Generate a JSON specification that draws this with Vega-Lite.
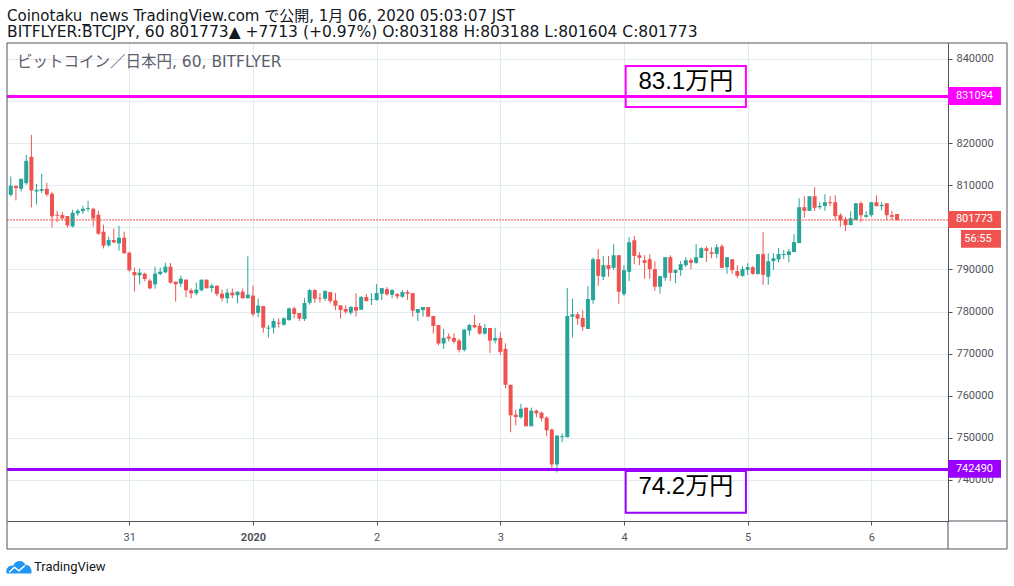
{
  "$schema": "https://vega.github.io/schema/vega-lite/v6.json",
  "description": "BITFLYER:BTCJPY 60 minute candles, 30 Dec 2019 - 6 Jan 2020",
  "width": 941,
  "height": 478,
  "autosize": {"type": "none"},
  "padding": {"left": 7, "top": 43, "right": 66, "bottom": 65},
  "background": "#ffffff",
  "config": {
    "view": {"stroke": null},
    "font": "'DejaVu Sans', 'Noto Sans CJK JP'"
  },
  "title": {
    "text": "Coinotaku_news TradingView.com で公開, 1月 06, 2020 05:03:07 JST",
    "subtitle": "BITFLYER:BTCJPY, 60 801773▲ +7713 (+0.97%) O:803188 H:803188 L:801604 C:801773",
    "anchor": "start",
    "frame": "group",
    "offset": 2,
    "font": "'DejaVu Sans', 'Noto Sans CJK JP'",
    "fontSize": 15,
    "fontWeight": "normal",
    "color": "#131722",
    "subtitleFont": "'DejaVu Sans', 'Noto Sans CJK JP'",
    "subtitleFontSize": 15.5,
    "subtitleColor": "#131722",
    "subtitlePadding": 1
  },
  "datasets": {
    "candles": [
      {"t":"2019-12-30T01:00Z","o":807750,"h":812100,"l":807350,"c":809880},
      {"t":"2019-12-30T02:00Z","o":809880,"h":809880,"l":806400,"c":809330},
      {"t":"2019-12-30T03:00Z","o":809170,"h":811540,"l":808540,"c":811540},
      {"t":"2019-12-30T04:00Z","o":810510,"h":817230,"l":810120,"c":815810},
      {"t":"2019-12-30T05:00Z","o":816760,"h":821980,"l":804740,"c":808780},
      {"t":"2019-12-30T06:00Z","o":808540,"h":810360,"l":805460,"c":808930},
      {"t":"2019-12-30T07:00Z","o":808700,"h":812730,"l":808140,"c":809090},
      {"t":"2019-12-30T08:00Z","o":809170,"h":810590,"l":807350,"c":807830},
      {"t":"2019-12-30T09:00Z","o":807990,"h":808460,"l":800000,"c":802610},
      {"t":"2019-12-30T10:00Z","o":803000,"h":803950,"l":801270,"c":802770},
      {"t":"2019-12-30T11:00Z","o":802930,"h":803720,"l":801660,"c":802140},
      {"t":"2019-12-30T12:00Z","o":802690,"h":802690,"l":800000,"c":800480},
      {"t":"2019-12-30T13:00Z","o":800240,"h":804190,"l":800000,"c":803480},
      {"t":"2019-12-30T14:00Z","o":803320,"h":804350,"l":802770,"c":803950},
      {"t":"2019-12-30T15:00Z","o":803870,"h":805140,"l":803240,"c":804430},
      {"t":"2019-12-30T16:00Z","o":804350,"h":806320,"l":803800,"c":804590},
      {"t":"2019-12-30T17:00Z","o":804430,"h":804670,"l":800240,"c":802140},
      {"t":"2019-12-30T18:00Z","o":803000,"h":803950,"l":798260,"c":798500},
      {"t":"2019-12-30T19:00Z","o":798970,"h":800630,"l":795020,"c":795650},
      {"t":"2019-12-30T20:00Z","o":795730,"h":797790,"l":795420,"c":797000},
      {"t":"2019-12-30T21:00Z","o":797000,"h":799690,"l":796210,"c":796440},
      {"t":"2019-12-30T22:00Z","o":796210,"h":800400,"l":794470,"c":797550},
      {"t":"2019-12-30T23:00Z","o":797550,"h":798970,"l":793840,"c":793840},
      {"t":"2019-12-31T00:00Z","o":793990,"h":794230,"l":789490,"c":789800},
      {"t":"2019-12-31T01:00Z","o":789410,"h":790440,"l":784740,"c":788620},
      {"t":"2019-12-31T02:00Z","o":788620,"h":790200,"l":786480,"c":789250},
      {"t":"2019-12-31T03:00Z","o":789010,"h":789250,"l":787200,"c":787750},
      {"t":"2019-12-31T04:00Z","o":787350,"h":787830,"l":785300,"c":785530},
      {"t":"2019-12-31T05:00Z","o":786480,"h":790670,"l":785460,"c":789010},
      {"t":"2019-12-31T06:00Z","o":788930,"h":790440,"l":788620,"c":789490},
      {"t":"2019-12-31T07:00Z","o":789330,"h":791620,"l":789090,"c":790670},
      {"t":"2019-12-31T08:00Z","o":790670,"h":791540,"l":786640,"c":786880},
      {"t":"2019-12-31T09:00Z","o":787120,"h":787120,"l":782370,"c":786480},
      {"t":"2019-12-31T10:00Z","o":786640,"h":788540,"l":785850,"c":787830},
      {"t":"2019-12-31T11:00Z","o":787590,"h":787590,"l":783400,"c":785060},
      {"t":"2019-12-31T12:00Z","o":785060,"h":785530,"l":783160,"c":784350},
      {"t":"2019-12-31T13:00Z","o":784350,"h":786880,"l":783880,"c":785220},
      {"t":"2019-12-31T14:00Z","o":785060,"h":787590,"l":784820,"c":787590},
      {"t":"2019-12-31T15:00Z","o":787590,"h":787590,"l":785530,"c":785530},
      {"t":"2019-12-31T16:00Z","o":785610,"h":786640,"l":784670,"c":786170},
      {"t":"2019-12-31T17:00Z","o":786170,"h":786170,"l":783640,"c":784190},
      {"t":"2019-12-31T18:00Z","o":784270,"h":785220,"l":782450,"c":783160},
      {"t":"2019-12-31T19:00Z","o":783160,"h":785460,"l":781980,"c":784510},
      {"t":"2019-12-31T20:00Z","o":784510,"h":785460,"l":783160,"c":783880},
      {"t":"2019-12-31T21:00Z","o":783880,"h":784740,"l":781980,"c":784740},
      {"t":"2019-12-31T22:00Z","o":784740,"h":785460,"l":783160,"c":783160},
      {"t":"2019-12-31T23:00Z","o":783160,"h":793120,"l":783160,"c":784030},
      {"t":"2020-01-01T00:00Z","o":783800,"h":786170,"l":778890,"c":779370},
      {"t":"2020-01-01T01:00Z","o":779690,"h":783080,"l":778660,"c":781420},
      {"t":"2020-01-01T02:00Z","o":781320,"h":781320,"l":775010,"c":776190},
      {"t":"2020-01-01T03:00Z","o":775960,"h":776820,"l":773830,"c":776190},
      {"t":"2020-01-01T04:00Z","o":776190,"h":778400,"l":774770,"c":777770},
      {"t":"2020-01-01T05:00Z","o":777380,"h":778400,"l":776190,"c":777140},
      {"t":"2020-01-01T06:00Z","o":776900,"h":778640,"l":776590,"c":778400},
      {"t":"2020-01-01T07:00Z","o":778010,"h":780930,"l":777770,"c":780770},
      {"t":"2020-01-01T08:00Z","o":780770,"h":781160,"l":778400,"c":779430},
      {"t":"2020-01-01T09:00Z","o":779660,"h":779660,"l":777770,"c":778320},
      {"t":"2020-01-01T10:00Z","o":778240,"h":783210,"l":777770,"c":782030},
      {"t":"2020-01-01T11:00Z","o":782110,"h":785340,"l":781640,"c":785110},
      {"t":"2020-01-01T12:00Z","o":785110,"h":785340,"l":782110,"c":783060},
      {"t":"2020-01-01T13:00Z","o":783210,"h":784400,"l":782110,"c":783060},
      {"t":"2020-01-01T14:00Z","o":783060,"h":785110,"l":782580,"c":784870},
      {"t":"2020-01-01T15:00Z","o":784630,"h":784630,"l":781950,"c":782500},
      {"t":"2020-01-01T16:00Z","o":782660,"h":784400,"l":780370,"c":781400},
      {"t":"2020-01-01T17:00Z","o":781480,"h":781480,"l":778320,"c":780370},
      {"t":"2020-01-01T18:00Z","o":780610,"h":781480,"l":779430,"c":779980},
      {"t":"2020-01-01T19:00Z","o":779740,"h":781320,"l":779270,"c":781080},
      {"t":"2020-01-01T20:00Z","o":781080,"h":784400,"l":778800,"c":780220},
      {"t":"2020-01-01T21:00Z","o":780450,"h":783690,"l":780370,"c":783450},
      {"t":"2020-01-01T22:00Z","o":783450,"h":784160,"l":782350,"c":782500},
      {"t":"2020-01-01T23:00Z","o":782740,"h":784400,"l":781560,"c":782900},
      {"t":"2020-01-02T00:00Z","o":782740,"h":786530,"l":782580,"c":784400},
      {"t":"2020-01-02T01:00Z","o":784240,"h":785580,"l":782740,"c":785580},
      {"t":"2020-01-02T02:00Z","o":785340,"h":785820,"l":783770,"c":784080},
      {"t":"2020-01-02T03:00Z","o":784000,"h":785340,"l":783210,"c":785110},
      {"t":"2020-01-02T04:00Z","o":784160,"h":784400,"l":782980,"c":783610},
      {"t":"2020-01-02T05:00Z","o":783530,"h":785110,"l":783290,"c":784630},
      {"t":"2020-01-02T06:00Z","o":784630,"h":785110,"l":782740,"c":784240},
      {"t":"2020-01-02T07:00Z","o":784400,"h":784400,"l":778800,"c":780220},
      {"t":"2020-01-02T08:00Z","o":779740,"h":780610,"l":777770,"c":780610},
      {"t":"2020-01-02T09:00Z","o":780370,"h":781080,"l":778800,"c":781080},
      {"t":"2020-01-02T10:00Z","o":781080,"h":781080,"l":778800,"c":778800},
      {"t":"2020-01-02T11:00Z","o":778950,"h":778950,"l":774770,"c":776590},
      {"t":"2020-01-02T12:00Z","o":776820,"h":776820,"l":772010,"c":772410},
      {"t":"2020-01-02T13:00Z","o":772410,"h":775880,"l":771140,"c":773750},
      {"t":"2020-01-02T14:00Z","o":774060,"h":774850,"l":772880,"c":773590},
      {"t":"2020-01-02T15:00Z","o":773750,"h":774850,"l":772410,"c":772880},
      {"t":"2020-01-02T16:00Z","o":773120,"h":773590,"l":770280,"c":770910},
      {"t":"2020-01-02T17:00Z","o":770910,"h":775880,"l":770510,"c":775720},
      {"t":"2020-01-02T18:00Z","o":775480,"h":777060,"l":774300,"c":776820},
      {"t":"2020-01-02T19:00Z","o":776820,"h":779190,"l":776030,"c":776270},
      {"t":"2020-01-02T20:00Z","o":776590,"h":777300,"l":774540,"c":774770},
      {"t":"2020-01-02T21:00Z","o":774770,"h":777060,"l":774540,"c":776110},
      {"t":"2020-01-02T22:00Z","o":776110,"h":776110,"l":770200,"c":773120},
      {"t":"2020-01-02T23:00Z","o":773120,"h":776110,"l":772410,"c":773750},
      {"t":"2020-01-03T00:00Z","o":773750,"h":775090,"l":769720,"c":770430},
      {"t":"2020-01-03T01:00Z","o":771140,"h":772480,"l":761750,"c":762620},
      {"t":"2020-01-03T02:00Z","o":762620,"h":762620,"l":751340,"c":755360},
      {"t":"2020-01-03T03:00Z","o":755520,"h":756700,"l":753000,"c":754970},
      {"t":"2020-01-03T04:00Z","o":754890,"h":758120,"l":754570,"c":756940},
      {"t":"2020-01-03T05:00Z","o":757180,"h":757180,"l":752760,"c":752760},
      {"t":"2020-01-03T06:00Z","o":752760,"h":757180,"l":752760,"c":756470},
      {"t":"2020-01-03T07:00Z","o":756470,"h":756700,"l":754890,"c":755840},
      {"t":"2020-01-03T08:00Z","o":755990,"h":756230,"l":753940,"c":754650},
      {"t":"2020-01-03T09:00Z","o":754810,"h":755130,"l":750390,"c":751810},
      {"t":"2020-01-03T10:00Z","o":751970,"h":752210,"l":742660,"c":743690},
      {"t":"2020-01-03T11:00Z","o":743690,"h":750550,"l":741800,"c":750550},
      {"t":"2020-01-03T12:00Z","o":750160,"h":751020,"l":748970,"c":750390},
      {"t":"2020-01-03T13:00Z","o":750160,"h":785580,"l":750160,"c":778950},
      {"t":"2020-01-03T14:00Z","o":778800,"h":783060,"l":773830,"c":779350},
      {"t":"2020-01-03T15:00Z","o":779350,"h":779820,"l":776900,"c":778320},
      {"t":"2020-01-03T16:00Z","o":778480,"h":780370,"l":775400,"c":776350},
      {"t":"2020-01-03T17:00Z","o":775880,"h":786060,"l":775880,"c":782980},
      {"t":"2020-01-03T18:00Z","o":782740,"h":792840,"l":781870,"c":792450},
      {"t":"2020-01-03T19:00Z","o":792450,"h":794810,"l":786130,"c":788500},
      {"t":"2020-01-03T20:00Z","o":788260,"h":793160,"l":787480,"c":791030},
      {"t":"2020-01-03T21:00Z","o":791030,"h":793160,"l":788260,"c":790160},
      {"t":"2020-01-03T22:00Z","o":790390,"h":796000,"l":789920,"c":793390},
      {"t":"2020-01-03T23:00Z","o":793390,"h":793390,"l":781870,"c":784710},
      {"t":"2020-01-04T00:00Z","o":784160,"h":791030,"l":783690,"c":789840},
      {"t":"2020-01-04T01:00Z","o":789450,"h":797650,"l":787240,"c":796470},
      {"t":"2020-01-04T02:00Z","o":796940,"h":797970,"l":791260,"c":793240},
      {"t":"2020-01-04T03:00Z","o":793390,"h":794100,"l":791030,"c":792760},
      {"t":"2020-01-04T04:00Z","o":792210,"h":793390,"l":787790,"c":791580},
      {"t":"2020-01-04T05:00Z","o":792450,"h":793630,"l":787790,"c":790080},
      {"t":"2020-01-04T06:00Z","o":790080,"h":791970,"l":784950,"c":785900},
      {"t":"2020-01-04T07:00Z","o":785900,"h":788420,"l":784240,"c":788420},
      {"t":"2020-01-04T08:00Z","o":788030,"h":792920,"l":787320,"c":792920},
      {"t":"2020-01-04T09:00Z","o":792920,"h":793390,"l":787240,"c":789210},
      {"t":"2020-01-04T10:00Z","o":789210,"h":790080,"l":786770,"c":789840},
      {"t":"2020-01-04T11:00Z","o":789840,"h":791970,"l":788500,"c":791260},
      {"t":"2020-01-04T12:00Z","o":791030,"h":792920,"l":790550,"c":792210},
      {"t":"2020-01-04T13:00Z","o":792210,"h":792680,"l":790080,"c":791580},
      {"t":"2020-01-04T14:00Z","o":791580,"h":796000,"l":791340,"c":792920},
      {"t":"2020-01-04T15:00Z","o":792760,"h":795290,"l":792760,"c":795050},
      {"t":"2020-01-04T16:00Z","o":795050,"h":795520,"l":791810,"c":794420},
      {"t":"2020-01-04T17:00Z","o":794100,"h":795290,"l":792680,"c":793710},
      {"t":"2020-01-04T18:00Z","o":793710,"h":796000,"l":792680,"c":795290},
      {"t":"2020-01-04T19:00Z","o":795520,"h":796000,"l":790320,"c":790390},
      {"t":"2020-01-04T20:00Z","o":790550,"h":792920,"l":788970,"c":792920},
      {"t":"2020-01-04T21:00Z","o":792450,"h":792450,"l":788970,"c":789840},
      {"t":"2020-01-04T22:00Z","o":789610,"h":791030,"l":788030,"c":788500},
      {"t":"2020-01-04T23:00Z","o":788500,"h":790790,"l":788260,"c":790080},
      {"t":"2020-01-05T00:00Z","o":789920,"h":791500,"l":788740,"c":790550},
      {"t":"2020-01-05T01:00Z","o":790550,"h":790790,"l":788740,"c":788970},
      {"t":"2020-01-05T02:00Z","o":788970,"h":793630,"l":788740,"c":793630},
      {"t":"2020-01-05T03:00Z","o":793630,"h":798840,"l":786370,"c":788740},
      {"t":"2020-01-05T04:00Z","o":788260,"h":793870,"l":786370,"c":791970},
      {"t":"2020-01-05T05:00Z","o":791970,"h":793870,"l":789920,"c":792680},
      {"t":"2020-01-05T06:00Z","o":792400,"h":795090,"l":791700,"c":793670},
      {"t":"2020-01-05T07:00Z","o":793430,"h":794620,"l":792490,"c":793670},
      {"t":"2020-01-05T08:00Z","o":793430,"h":794850,"l":791700,"c":794300},
      {"t":"2020-01-05T09:00Z","o":794140,"h":798400,"l":794140,"c":796510},
      {"t":"2020-01-05T10:00Z","o":796270,"h":806920,"l":796270,"c":804790},
      {"t":"2020-01-05T11:00Z","o":804790,"h":807400,"l":802270,"c":803930},
      {"t":"2020-01-05T12:00Z","o":803930,"h":807400,"l":803930,"c":807400},
      {"t":"2020-01-05T13:00Z","o":807400,"h":809530,"l":803930,"c":804640},
      {"t":"2020-01-05T14:00Z","o":804790,"h":805980,"l":804320,"c":805110},
      {"t":"2020-01-05T15:00Z","o":805110,"h":807870,"l":803930,"c":805980},
      {"t":"2020-01-05T16:00Z","o":805980,"h":807400,"l":805030,"c":805740},
      {"t":"2020-01-05T17:00Z","o":805980,"h":807630,"l":801720,"c":802660},
      {"t":"2020-01-05T18:00Z","o":802900,"h":803370,"l":800140,"c":801720},
      {"t":"2020-01-05T19:00Z","o":801950,"h":802510,"l":799110,"c":800530},
      {"t":"2020-01-05T20:00Z","o":800530,"h":803850,"l":800530,"c":802190},
      {"t":"2020-01-05T21:00Z","o":801720,"h":805740,"l":801720,"c":805740},
      {"t":"2020-01-05T22:00Z","o":805740,"h":806210,"l":801240,"c":802900},
      {"t":"2020-01-05T23:00Z","o":802510,"h":803850,"l":802270,"c":802900},
      {"t":"2020-01-06T00:00Z","o":802900,"h":805980,"l":802510,"c":805980},
      {"t":"2020-01-06T01:00Z","o":805980,"h":807630,"l":805030,"c":805030},
      {"t":"2020-01-06T02:00Z","o":805030,"h":805980,"l":804080,"c":805350},
      {"t":"2020-01-06T03:00Z","o":805740,"h":805740,"l":801720,"c":802900},
      {"t":"2020-01-06T04:00Z","o":802900,"h":803850,"l":801720,"c":802510},
      {"t":"2020-01-06T05:00Z","o":803188,"h":803188,"l":801604,"c":801773}
    ],
    "levels": [
      {"kind": "hi", "p": 831094},
      {"kind": "lo", "p": 742490}
    ],
    "notes": [
      {"kind": "hi", "t": "2020-01-04T00:20Z", "t2": "2020-01-04T23:40Z", "p": 838340, "p2": 828600, "tc": "2020-01-04T12:00Z", "pc": 834540, "lbl": "83.1万円"},
      {"kind": "lo", "t": "2020-01-04T00:20Z", "t2": "2020-01-04T23:40Z", "p": 742140, "p2": 732230, "tc": "2020-01-04T12:00Z", "pc": 738340, "lbl": "74.2万円"}
    ],
    "tags": [
      {"kind": "hi", "t": "2020-01-06T14:53Z", "t2": "2020-01-07T01:10Z", "p": 833350, "p2": 829070, "tc": "2020-01-06T20:01Z", "pc": 831200, "lbl": "831094"},
      {"kind": "last", "t": "2020-01-06T14:53Z", "t2": "2020-01-07T01:10Z", "p": 803900, "p2": 799860, "tc": "2020-01-06T20:01Z", "pc": 801880, "lbl": "801773"},
      {"kind": "timer", "t": "2020-01-06T17:24Z", "t2": "2020-01-07T01:10Z", "p": 799380, "p2": 795180, "tc": "2020-01-06T20:42Z", "pc": 797280, "lbl": "56:55"},
      {"kind": "lo", "t": "2020-01-06T14:53Z", "t2": "2020-01-07T01:10Z", "p": 744750, "p2": 740550, "tc": "2020-01-06T20:01Z", "pc": 742650, "lbl": "742490"}
    ],
    "frame": [
      {"t": "2019-12-30T00:16Z", "t2": "2020-01-07T02:20Z", "p": 723610, "p2": 843800}
    ],
    "edges": [
      {"t": "2020-01-06T14:53Z", "t2": "2020-01-07T02:20Z", "p": 730260, "p2": 730260},
      {"t": "2020-01-06T14:53Z", "t2": "2020-01-06T14:53Z", "p": 723610, "p2": 730260}
    ]
  },
  "layer": [
    {
      "data": {"name": "candles"},
      "mark": {"type": "rule", "strokeWidth": 1},
      "encoding": {
        "x": {
          "field": "t",
          "type": "temporal",
          "scale": {
            "type": "utc",
            "padding": 0,
            "domain": [
              {"year": 2019, "month": 12, "date": 30, "hours": 0, "minutes": 16, "utc": true},
              {"year": 2020, "month": 1, "date": 6, "hours": 14, "minutes": 53, "utc": true}
            ]
          },
          "axis": {
            "title": null,
            "values": [
              {"year": 2019, "month": 12, "date": 31, "utc": true},
              {"year": 2020, "month": 1, "date": 1, "utc": true},
              {"year": 2020, "month": 1, "date": 2, "utc": true},
              {"year": 2020, "month": 1, "date": 3, "utc": true},
              {"year": 2020, "month": 1, "date": 4, "utc": true},
              {"year": 2020, "month": 1, "date": 5, "utc": true},
              {"year": 2020, "month": 1, "date": 6, "utc": true}
            ],
            "labelExpr": "utcdate(datum.value) == 1 ? '2020' : '' + utcdate(datum.value)",
            "labelFontWeight": {"condition": {"test": "utcdate(datum.value) == 1", "value": "bold"}, "value": "normal"},
            "labelFont": "Roboto",
            "labelFontSize": 11,
            "labelColor": "#50535e",
            "labelPadding": 6,
            "grid": true,
            "gridColor": "#e1ecf2",
            "domainColor": "#50535e",
            "tickColor": "#50535e",
            "tickSize": 4
          }
        },
        "y": {
          "field": "l",
          "type": "quantitative",
          "scale": {"domain": [730260, 843800], "nice": false, "zero": false, "padding": 0},
          "axis": {
            "title": null,
            "orient": "right",
            "values": [740000, 750000, 760000, 770000, 780000, 790000, 800000, 810000, 820000, 830000, 840000],
            "labelExpr": "datum.value == 830000 || datum.value == 800000 ? '' : format(datum.value, 'd')",
            "labelFont": "Roboto",
            "labelFontSize": 11,
            "labelColor": "#50535e",
            "labelPadding": 4,
            "grid": true,
            "gridColor": "#e1ecf2",
            "domainColor": "#50535e",
            "tickColor": "#50535e",
            "tickSize": 4
          }
        },
        "y2": {"field": "h"},
        "color": {"condition": {"test": "datum.c >= datum.o", "value": "#26a69a"}, "value": "#ef5350"}
      }
    },
    {
      "data": {"name": "candles"},
      "mark": {"type": "bar", "width": 4},
      "encoding": {
        "x": {"field": "t", "type": "temporal"},
        "y": {"field": "o", "type": "quantitative"},
        "y2": {"field": "c"},
        "color": {"condition": {"test": "datum.c >= datum.o", "value": "#26a69a"}, "value": "#ef5350"}
      }
    },
    {
      "data": {"values": [{"p": 801773}]},
      "mark": {"type": "rule", "color": "#ef5350", "strokeWidth": 1, "strokeDash": [2, 1]},
      "encoding": {
        "y": {"field": "p", "type": "quantitative"}
      }
    },
    {
      "data": {"name": "levels"},
      "mark": {"type": "rule", "strokeWidth": 3},
      "encoding": {
        "y": {"field": "p", "type": "quantitative"},
        "color": {"field": "kind", "type": "nominal", "scale": {"domain": ["hi", "lo", "last", "timer"], "range": ["#ff00ff", "#9900ff", "#ef5350", "#ef5350"]}, "legend": null}
      }
    },
    {
      "data": {"name": "notes"},
      "mark": {"type": "rect", "fillOpacity": 0, "strokeWidth": 2},
      "encoding": {
        "x": {"field": "t", "type": "temporal"},
        "x2": {"field": "t2"},
        "y": {"field": "p", "type": "quantitative"},
        "y2": {"field": "p2"},
        "stroke": {"field": "kind", "type": "nominal", "scale": {"domain": ["hi", "lo"], "range": ["#ff00ff", "#9900ff"]}, "legend": null}
      }
    },
    {
      "data": {"name": "notes"},
      "mark": {"type": "text", "align": "center", "baseline": "middle", "fontSize": 24, "font": "'Liberation Sans', 'Noto Sans CJK JP'", "color": "#000000"},
      "encoding": {
        "x": {"field": "tc", "type": "temporal"},
        "y": {"field": "pc", "type": "quantitative"},
        "text": {"field": "lbl"}
      }
    },
    {
      "data": {"name": "tags"},
      "mark": {"type": "rect"},
      "encoding": {
        "x": {"field": "t", "type": "temporal"},
        "x2": {"field": "t2"},
        "y": {"field": "p", "type": "quantitative"},
        "y2": {"field": "p2"},
        "color": {"field": "kind", "type": "nominal", "scale": {"domain": ["hi", "lo", "last", "timer"], "range": ["#ff00ff", "#9900ff", "#ef5350", "#ef5350"]}, "legend": null}
      }
    },
    {
      "data": {"name": "tags"},
      "mark": {"type": "text", "align": "center", "baseline": "middle", "fontSize": 11, "font": "Roboto", "color": "#ffffff"},
      "encoding": {
        "x": {"field": "tc", "type": "temporal"},
        "y": {"field": "pc", "type": "quantitative"},
        "text": {"field": "lbl"}
      }
    },
    {
      "data": {"values": [{"t": "2019-12-30T02:12Z", "p": 839290, "lbl": "ビットコイン／日本円, 60, BITFLYER"}]},
      "mark": {"type": "text", "align": "left", "baseline": "middle", "fontSize": 15.5, "font": "'DejaVu Sans', 'Noto Sans CJK JP'", "color": "#5d606b"},
      "encoding": {
        "x": {"field": "t", "type": "temporal"},
        "y": {"field": "p", "type": "quantitative"},
        "text": {"field": "lbl"}
      }
    },
    {
      "data": {"name": "frame"},
      "mark": {"type": "rect", "fillOpacity": 0, "stroke": "#50535e", "strokeWidth": 1},
      "encoding": {
        "x": {"field": "t", "type": "temporal"},
        "x2": {"field": "t2"},
        "y": {"field": "p", "type": "quantitative"},
        "y2": {"field": "p2"}
      }
    },
    {
      "data": {"name": "edges"},
      "mark": {"type": "rule", "color": "#50535e", "strokeWidth": 1},
      "encoding": {
        "x": {"field": "t", "type": "temporal"},
        "x2": {"field": "t2"},
        "y": {"field": "p", "type": "quantitative"},
        "y2": {"field": "p2"}
      }
    },
    {
      "data": {"values": [{"t": "2019-12-30T02:35Z", "p": 719340}]},
      "mark": {"type": "point", "filled": true, "color": "#2196f3", "opacity": 1, "size": 676,
        "shape": "M-0.95,0.5 C-1.05,0.1 -0.75,-0.15 -0.45,-0.1 C-0.3,-0.55 0.35,-0.6 0.5,-0.15 C0.85,-0.2 1.05,0.2 0.95,0.5 Z"},
      "encoding": {
        "x": {"field": "t", "type": "temporal"},
        "y": {"field": "p", "type": "quantitative"}
      }
    },
    {
      "data": {"values": [{"t": "2019-12-30T02:35Z", "p": 719340}]},
      "mark": {"type": "point", "filled": false, "stroke": "#ffffff", "strokeWidth": 1.5, "opacity": 1, "size": 676,
        "shape": "M-0.75,0.4 L-0.35,0.02 L0,0.3 L0.45,-0.1"},
      "encoding": {
        "x": {"field": "t", "type": "temporal"},
        "y": {"field": "p", "type": "quantitative"}
      }
    },
    {
      "data": {"values": [{"t": "2019-12-30T05:30Z", "p": 719340, "lbl": "TradingView"}]},
      "mark": {"type": "text", "align": "left", "baseline": "middle", "fontSize": 13, "font": "Roboto", "color": "#131722"},
      "encoding": {
        "x": {"field": "t", "type": "temporal"},
        "y": {"field": "p", "type": "quantitative"},
        "text": {"field": "lbl"}
      }
    }
  ]
}
